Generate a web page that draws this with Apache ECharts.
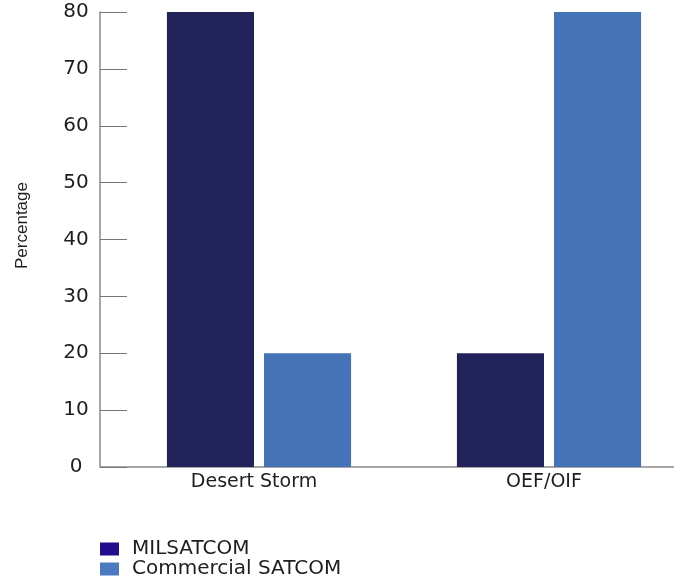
<!DOCTYPE html>
<html>
<head>
<meta charset="utf-8">
<script src="https://cdn.jsdelivr.net/npm/echarts@6/dist/echarts.min.js"></script>
<style>
  html, body { margin: 0; padding: 0; background: #ffffff; }
  #chart { width: 674px; height: 582px; }
</style>
</head>
<body>
<div id="chart"></div>
<script>
// Share of satellite communications by operation
const categories = ['Desert Storm', 'OEF/OIF'];
const milsatcom = [80, 20];
const commercialSatcom = [20, 80];
const yTicks = [0, 10, 20, 30, 40, 50, 60, 70, 80];

const FONT = '"DejaVu Sans", "Liberation Sans", Arial, sans-serif';
const chart = echarts.init(document.getElementById('chart'), null, { renderer: 'canvas' });

const option = {
  backgroundColor: '#ffffff',
  animation: false,
  grid: { left: 114, width: 580, top: 12, bottom: 115, containLabel: false, outerBoundsMode: 'none' },
  legend: {
    orient: 'vertical',
    left: 100,
    top: 539,
    height: 80,
    padding: 0,
    itemWidth: 19,
    itemHeight: 13,
    itemGap: 0,
    icon: 'rect',
    textStyle: { fontFamily: FONT, fontSize: 20, color: '#1e1e1e', lineHeight: 19, padding: [0, 0, 0, 8] },
    data: [
      { name: 'MILSATCOM', itemStyle: { color: '#210d8e' } },
      { name: 'Commercial SATCOM', itemStyle: { color: '#4a7bc1' } }
    ]
  },
  xAxis: {
    type: 'category',
    data: categories,
    axisLine: { show: true, lineStyle: { color: '#8a8a8a', width: 1.5 } },
    axisTick: { show: false },
    axisLabel: { fontFamily: FONT, fontSize: 19, color: '#1e1e1e', margin: 6, padding: [0, 10, 0, 0] }
  },
  yAxis: {
    type: 'value',
    min: yTicks[0],
    max: yTicks[yTicks.length - 1],
    interval: yTicks[1] - yTicks[0],
    offset: 14,
    splitLine: { show: false },
    axisLine: { show: true, lineStyle: { color: '#8a8a8a', width: 1.5 } },
    axisTick: { show: true, inside: true, length: 27, lineStyle: { color: '#777777', width: 1 } },
    axisLabel: { fontFamily: FONT, fontSize: 20, color: '#1e1e1e', align: 'center', margin: 24 }
  },
  series: [
    {
      name: 'MILSATCOM',
      type: 'bar',
      data: milsatcom,
      barGap: '11.5%',
      barCategoryGap: '36.5%',
      itemStyle: { color: '#23235b' }
    },
    {
      name: 'Commercial SATCOM',
      type: 'bar',
      data: commercialSatcom,
      itemStyle: { color: '#4473b8' }
    }
  ]
};
chart.setOption(option);

// Axis title and the short stretch of baseline between the offset y axis and the grid
const zeroY = chart.convertToPixel({ yAxisIndex: 0 }, yTicks[0]);
const topY = chart.convertToPixel({ yAxisIndex: 0 }, yTicks[yTicks.length - 1]);
const gridLeft = option.grid.left;
const axisX = gridLeft - option.yAxis.offset;
chart.setOption({
  graphic: [
    {
      type: 'line',
      shape: { x1: axisX, y1: zeroY, x2: gridLeft, y2: zeroY },
      style: { stroke: '#8a8a8a', lineWidth: 1.5 },
      silent: true
    },
    {
      type: 'text',
      x: 22,
      y: (zeroY + topY) / 2 - 14,
      rotation: Math.PI / 2,
      style: {
        text: 'Percentage',
        fontFamily: '"Liberation Sans", Arial, sans-serif',
        fontSize: 17,
        fill: '#1e1e1e',
        align: 'center',
        verticalAlign: 'middle'
      },
      silent: true
    }
  ]
});
</script>
</body>
</html>
